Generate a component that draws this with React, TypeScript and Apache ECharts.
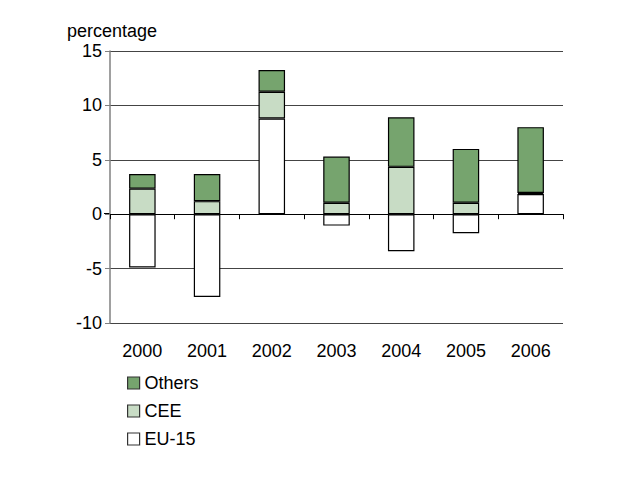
import React, { useEffect, useRef } from "react";
import * as echarts from "echarts";

const categories = ["2000", "2001", "2002", "2003", "2004", "2005", "2006"];
const eu15 = [-4.9, -7.6, 8.8, -1.05, -3.4, -1.75, 1.85];
const cee = [2.35, 1.2, 2.45, 1.05, 4.35, 1.05, 0.1];
const others = [1.35, 2.5, 2.0, 4.25, 4.55, 4.95, 6.05];
const legendOrder = ["Others", "CEE", "EU-15"];

const FONT = "'Liberation Sans', Arial, sans-serif";
const FS = 18;

export default function App() {
  const ref = useRef<HTMLDivElement>(null);
  useEffect(() => {
    if (!ref.current) return;
    const chart = echarts.init(ref.current, null, { renderer: "svg" });
    const barStyle = (color: string) => ({ color, borderColor: "#000", borderWidth: 1.2 });
    chart.setOption({
      animation: false,
      backgroundColor: "#fff",
      textStyle: { fontFamily: FONT },
      grid: { left: 110, right: 63, top: 51, bottom: 169, containLabel: false },
      legend: {
        orient: "vertical",
        left: 122,
        top: 369,
        itemWidth: 12,
        itemHeight: 12,
        itemGap: 10,
        icon: "rect",
        data: legendOrder,
        textStyle: { fontSize: FS, color: "#000", fontFamily: FONT },
        itemStyle: { borderColor: "#333", borderWidth: 1.2 },
      },
      graphic: [
        {
          type: "line",
          shape: { x1: 10, y1: 6, x2: 616, y2: 6 },
          style: { stroke: "#000", lineWidth: 3 },
        },
        {
          type: "line",
          shape: { x1: 104, y1: 213.5, x2: 110, y2: 213.5 },
          style: { stroke: "#000", lineWidth: 1 },
        },
        {
          type: "text",
          left: 67,
          top: 22,
          style: { text: "percentage", fontSize: FS, fill: "#000", fontFamily: FONT },
        },
      ],
      xAxis: [
        {
          type: "category",
          data: categories,
          axisLine: { show: true, onZero: true, lineStyle: { color: "#000", width: 1 } },
          axisTick: { show: true, interval: 0, alignWithLabel: false, length: 5, lineStyle: { color: "#000" } },
          axisLabel: { show: false },
        },
        {
          type: "category",
          data: categories,
          position: "bottom",
          axisLine: { show: false, onZero: false },
          axisTick: { show: false },
          axisLabel: { show: true, interval: 0, fontSize: FS, color: "#000", margin: 19, fontFamily: FONT },
        },
      ],
      yAxis: {
        type: "value",
        min: -10,
        max: 15,
        interval: 5,
        axisLine: { show: true, lineStyle: { color: "#808080", width: 1.5 } },
        axisTick: { show: true, length: 5, lineStyle: { color: "#808080" } },
        axisLabel: { fontSize: FS, color: "#000", margin: 8, fontFamily: FONT },
        splitLine: { show: true, lineStyle: { color: "#444", width: 1 } },
      },
      series: [
        {
          name: "EU-15",
          type: "bar",
          stack: "total",
          xAxisIndex: 0,
          barWidth: "41%",
          data: eu15,
          itemStyle: barStyle("#ffffff"),
        },
        {
          name: "CEE",
          type: "bar",
          stack: "total",
          xAxisIndex: 0,
          barWidth: "41%",
          data: cee,
          itemStyle: barStyle("#c8dcc5"),
        },
        {
          name: "Others",
          type: "bar",
          stack: "total",
          xAxisIndex: 0,
          barWidth: "41%",
          data: others,
          itemStyle: barStyle("#76a46e"),
        },
      ],
    });
    return () => chart.dispose();
  }, []);
  return <div ref={ref} style={{ width: 626, height: 492, margin: -8 }} />;
}
